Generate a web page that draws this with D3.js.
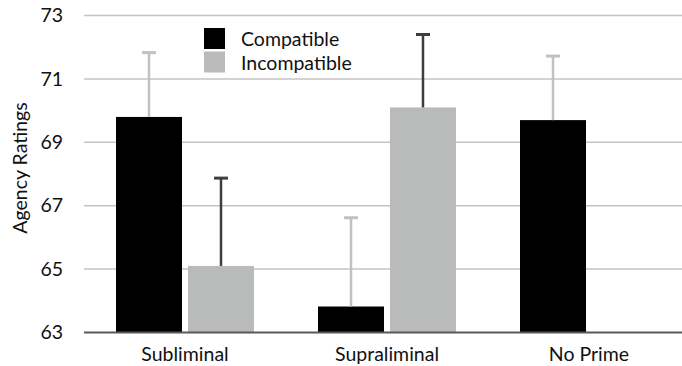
<!DOCTYPE html>
<html>
<head>
<meta charset="utf-8">
<script src="https://cdn.jsdelivr.net/npm/d3@7"></script>
<style>
  body { margin: 0; background: #fff; }
  svg text { font-family: Lato, "Open Sans", sans-serif; fill: #111; }
</style>
</head>
<body>
<svg></svg>
<script>
// chart data
let categories = ["Subliminal", "Supraliminal", "No Prime"];
let seriesNames = ["Compatible", "Incompatible"];
let compatible = [69.8, 63.82, 69.7];
let incompatible = [65.1, 70.1, null];
let compatibleErr = [2.03, 2.8, 2.02];
let incompatibleErr = [2.77, 2.3, null];
let yTicks = [63, 65, 67, 69, 71, 73];

let width = 682;
let height = 366;
let fontSize = "19.5px";

let svg = d3.select("svg")
  .attr("width", width)
  .attr("height", height);

let colors = { "Compatible": "#000000", "Incompatible": "#b9bbbb" };
let errColors = { "Compatible": "#c0c1c1", "Incompatible": "#3c3f42" };

// scales
let xScale = d3.scaleBand()
  .domain(categories)
  .range([84, 690])
  .paddingInner(0)
  .paddingOuter(0);

// two bars of 66px with a 6px gap inside each group
let xInner = d3.scaleBand()
  .domain(seriesNames)
  .range([32, xScale.bandwidth() - 32])
  .paddingInner(0.083);

let yScale = d3.scaleLinear()
  .domain([63, 73])
  .range([332.5, 15.5]);

// gridlines
svg.append("g")
  .selectAll("line")
  .data(yTicks.slice(1))
  .enter()
  .append("line")
  .attr("x1", 84)
  .attr("x2", width)
  .attr("y1", d => yScale(d))
  .attr("y2", d => yScale(d))
  .attr("stroke", "#c4c4c4")
  .attr("stroke-width", 1.5);

// y axis labels
let yAxis = d3.axisLeft(yScale)
  .tickValues(yTicks)
  .tickFormat(d3.format("d"))
  .tickSize(0)
  .tickPadding(21);

svg.append("g")
  .attr("transform", "translate(84, 0)")
  .call(yAxis)
  .call(g => g.select(".domain").remove())
  .call(g => g.selectAll("text")
    .style("font-size", fontSize)
    .style("font-family", "Lato, sans-serif")
    .attr("fill", "#111"));

// build table of bars
let rows = [];
categories.forEach((c, i) => {
  rows.push({ cat: c, series: "Compatible", value: compatible[i], err: compatibleErr[i] });
  rows.push({ cat: c, series: "Incompatible", value: incompatible[i], err: incompatibleErr[i] });
});
rows = rows.filter(d => d.value != null);

svg.append("g")
  .selectAll("rect")
  .data(rows)
  .enter()
  .append("rect")
  .attr("x", d => xScale(d.cat) + xInner(d.series))
  .attr("width", xInner.bandwidth())
  .attr("y", d => yScale(d.value))
  .attr("height", d => yScale(63) - yScale(d.value))
  .attr("fill", d => colors[d.series]);

// error bars (upper only)
let errG = svg.append("g");
rows.forEach(d => {
  let cx = xScale(d.cat) + xInner(d.series) + xInner.bandwidth() / 2;
  errG.append("line")
    .attr("x1", cx).attr("x2", cx)
    .attr("y1", yScale(d.value))
    .attr("y2", yScale(d.value + d.err))
    .attr("stroke", errColors[d.series])
    .attr("stroke-width", 2.5);
  errG.append("line")
    .attr("x1", cx - 7).attr("x2", cx + 7)
    .attr("y1", yScale(d.value + d.err))
    .attr("y2", yScale(d.value + d.err))
    .attr("stroke", errColors[d.series])
    .attr("stroke-width", 3);
});

// baseline
svg.append("line")
  .attr("x1", 84)
  .attr("x2", width)
  .attr("y1", yScale(63))
  .attr("y2", yScale(63))
  .attr("stroke", "#595959")
  .attr("stroke-width", 2);

// x axis labels
let xAxis = d3.axisBottom(xScale)
  .tickSize(0)
  .tickPadding(15);

svg.append("g")
  .attr("transform", "translate(0," + yScale(63) + ")")
  .call(xAxis)
  .call(g => g.select(".domain").remove())
  .call(g => g.selectAll("text")
    .style("font-size", fontSize)
    .style("font-family", "Lato, sans-serif")
    .attr("fill", "#111"));

// y axis title
svg.append("text")
  .attr("transform", "translate(27, 168) rotate(-90)")
  .attr("text-anchor", "middle")
  .style("font-size", fontSize)
  .text("Agency Ratings");

// legend
let legend = svg.append("g")
  .attr("transform", "translate(204, 28)");

legend.selectAll("rect")
  .data(seriesNames)
  .enter()
  .append("rect")
  .attr("x", 0)
  .attr("y", (d, i) => i * 23.5)
  .attr("width", 21)
  .attr("height", 21)
  .attr("fill", d => colors[d]);

legend.selectAll("text")
  .data(seriesNames)
  .enter()
  .append("text")
  .attr("x", 37)
  .attr("y", (d, i) => i * 23.5 + 18)
  .style("font-size", fontSize)
  .text(d => d);
</script>
</body>
</html>
